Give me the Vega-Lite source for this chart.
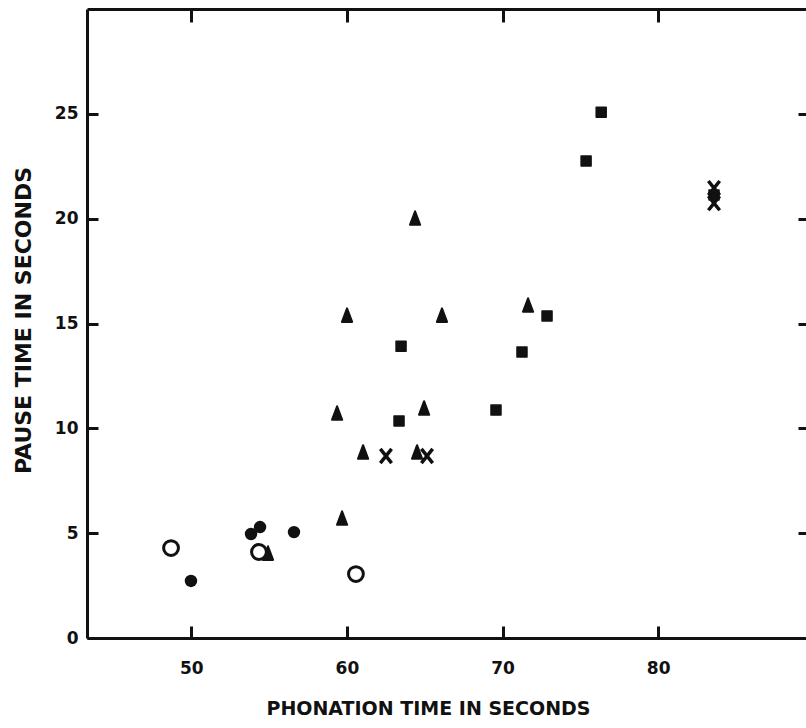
{
  "$schema": "https://vega.github.io/schema/vega-lite/v6.json",
  "autosize": {"type": "none"},
  "padding": {"left": 87, "top": 9, "right": 0, "bottom": 90},
  "width": 719,
  "height": 629,
  "background": "white",
  "config": {
    "view": {"stroke": null},
    "axis": {
      "domainColor": "#111",
      "domainWidth": 3,
      "tickColor": "#111",
      "tickWidth": 3,
      "grid": false,
      "labelFont": "DejaVu Sans",
      "labelFontWeight": "bold",
      "labelFontSize": 17,
      "labelColor": "#111",
      "titleFont": "DejaVu Sans",
      "titleFontWeight": "bold",
      "titleFontSize": 19,
      "titleColor": "#111"
    }
  },
  "data": {
    "values": [
      {"group": "open", "phonation": 48.70, "pause": 4.29},
      {"group": "open", "phonation": 54.35, "pause": 4.10},
      {"group": "open", "phonation": 60.58, "pause": 3.05},
      {"group": "dot", "phonation": 49.98, "pause": 2.72},
      {"group": "dot", "phonation": 53.84, "pause": 4.96},
      {"group": "dot", "phonation": 54.42, "pause": 5.29},
      {"group": "dot", "phonation": 56.60, "pause": 5.05},
      {"group": "triangle", "phonation": 54.93, "pause": 4.05},
      {"group": "triangle", "phonation": 59.69, "pause": 5.72},
      {"group": "triangle", "phonation": 59.37, "pause": 10.73},
      {"group": "triangle", "phonation": 61.04, "pause": 8.87},
      {"group": "triangle", "phonation": 60.01, "pause": 15.40},
      {"group": "triangle", "phonation": 64.38, "pause": 20.03},
      {"group": "triangle", "phonation": 66.11, "pause": 15.40},
      {"group": "triangle", "phonation": 64.96, "pause": 10.97},
      {"group": "triangle", "phonation": 64.51, "pause": 8.87},
      {"group": "triangle", "phonation": 71.64, "pause": 15.88},
      {"group": "square", "phonation": 63.48, "pause": 13.92},
      {"group": "square", "phonation": 63.35, "pause": 10.35},
      {"group": "square", "phonation": 69.58, "pause": 10.87},
      {"group": "square", "phonation": 71.25, "pause": 13.64},
      {"group": "square", "phonation": 72.86, "pause": 15.36},
      {"group": "square", "phonation": 75.37, "pause": 22.75},
      {"group": "square", "phonation": 76.34, "pause": 25.08},
      {"group": "square", "phonation": 83.59, "pause": 21.13},
      {"group": "x", "phonation": 62.51, "pause": 8.68},
      {"group": "x", "phonation": 65.15, "pause": 8.68},
      {"group": "x", "phonation": 83.59, "pause": 21.46},
      {"group": "x", "phonation": 83.59, "pause": 20.74}
    ]
  },
  "resolve": {"axis": {"x": "independent", "y": "independent"}},
  "layer": [
    {
      "transform": [{"filter": "datum.group === 'triangle'"}],
      "mark": {"type": "point", "shape": "M0,-1L0.75,1L-0.75,1Z", "filled": true, "fill": "#111", "stroke": "#111", "strokeWidth": 2, "strokeJoin": "round", "size": 185, "opacity": 1},
      "encoding": {
        "x": {"field": "phonation", "type": "quantitative", "scale": {"domain": [43.3, 89.5], "nice": false, "zero": false},
          "axis": {"orient": "bottom", "values": [50, 60, 70, 80], "tickSize": -12, "labelPadding": 34, "title": "PHONATION TIME IN SECONDS", "titleX": 341, "titleY": 76, "titleAnchor": "start", "titleAlign": "center", "titleBaseline": "alphabetic"}},
        "y": {"field": "pause", "type": "quantitative", "scale": {"domain": [0, 30], "nice": false},
          "axis": {"orient": "left", "values": [0, 5, 10, 15, 20, 25], "tickSize": -11, "labelPadding": 20, "title": "PAUSE TIME IN SECONDS", "titleFontSize": 22, "titleX": -64, "titleY": 311, "titleBaseline": "middle"}}
      }
    },
    {
      "transform": [{"filter": "datum.group === 'square'"}],
      "mark": {"type": "point", "shape": "square", "filled": true, "fill": "#111", "stroke": "#111", "strokeWidth": 1.5, "strokeJoin": "round", "size": 100, "opacity": 1},
      "encoding": {
        "x": {"field": "phonation", "type": "quantitative",
          "axis": {"orient": "top", "values": [50, 60, 70, 80], "tickSize": -13, "labels": false, "title": null}},
        "y": {"field": "pause", "type": "quantitative",
          "axis": {"orient": "right", "values": [5, 10, 15, 20, 25], "tickSize": -8, "labels": false, "domain": false, "title": null}}
      }
    },
    {
      "transform": [{"filter": "datum.group === 'dot'"}],
      "mark": {"type": "point", "shape": "circle", "filled": true, "fill": "#111", "size": 155, "opacity": 1},
      "encoding": {
        "x": {"field": "phonation", "type": "quantitative", "axis": null},
        "y": {"field": "pause", "type": "quantitative", "axis": null}
      }
    },
    {
      "transform": [{"filter": "datum.group === 'open'"}],
      "mark": {"type": "point", "shape": "circle", "filled": true, "fill": "white", "stroke": "#111", "strokeWidth": 3, "size": 220, "opacity": 1},
      "encoding": {
        "x": {"field": "phonation", "type": "quantitative", "axis": null},
        "y": {"field": "pause", "type": "quantitative", "axis": null}
      }
    },
    {
      "transform": [{"filter": "datum.group === 'x'"}],
      "mark": {"type": "point", "shape": "M-0.8,-1L0.8,1M0.8,-1L-0.8,1", "filled": false, "stroke": "#111", "strokeWidth": 3.5, "strokeCap": "butt", "size": 200, "opacity": 1},
      "encoding": {
        "x": {"field": "phonation", "type": "quantitative", "axis": null},
        "y": {"field": "pause", "type": "quantitative", "axis": null}
      }
    }
  ]
}
